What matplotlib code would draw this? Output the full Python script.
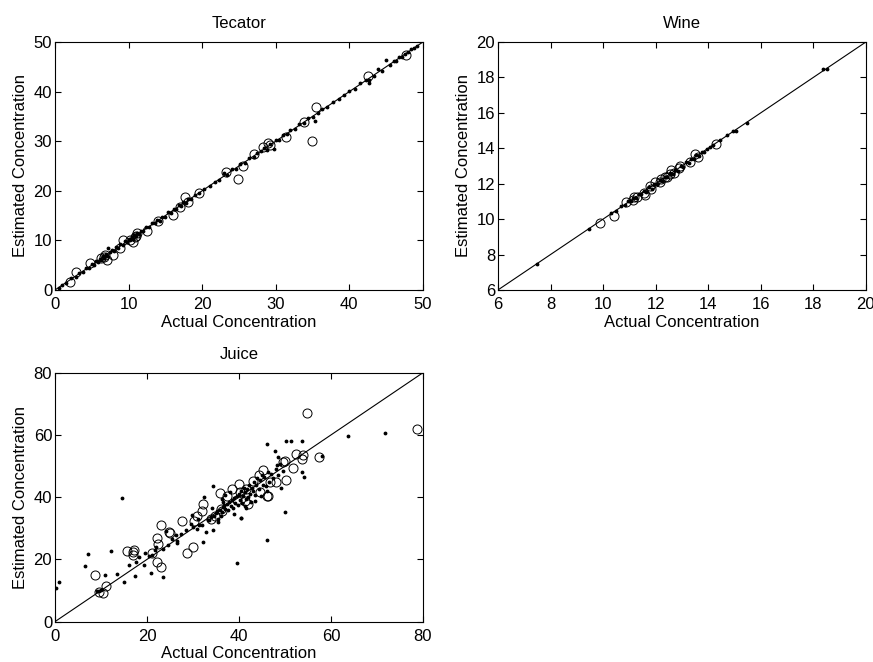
import matplotlib.pyplot as plt

plt.rcParams['font.family'] = ['Liberation Sans', 'DejaVu Sans']

# Tecator: test points (circles) and training points (dots)
tec_test_x = [2.0, 2.9, 4.75, 6.6, 7.0, 6.3, 7.9, 8.8, 9.2, 10.6, 11.2, 10.9, 12.5, 14.0, 16.1,
              17.0, 17.7, 18.1, 19.5, 23.3, 24.8, 25.6, 27.1, 28.3, 29.0, 29.2, 31.4, 33.8,
              34.9, 35.5, 42.5, 47.7, 6.8, 10.2, 11.0]
tec_test_y = [1.7, 3.6, 5.4, 6.7, 6.1, 6.4, 7.1, 8.4, 10.0, 9.6, 11.4, 10.6, 11.8, 14.0, 15.1,
              16.8, 18.8, 17.8, 19.5, 23.7, 22.4, 24.9, 27.5, 28.8, 29.7, 29.3, 30.8, 33.9,
              30.1, 36.9, 43.2, 47.3, 7.0, 10.1, 10.8]
tec_train_x = [0.5, 1.0, 1.5, 2.2, 2.8, 3.3, 3.8, 4.2, 4.6, 5.0, 5.3, 5.6, 5.9, 6.1, 6.3, 6.5,
               6.7, 6.9, 7.1, 7.2, 7.5, 7.8, 8.0, 8.3, 8.6, 8.9, 9.2, 9.5, 9.8, 10.0, 10.2, 10.4,
               10.6, 10.8, 11.0, 11.2, 11.4, 11.7, 12.0, 12.4, 12.8, 13.2, 13.6, 13.9, 14.2,
               14.6, 15.0, 15.4, 15.8, 16.2, 16.5, 16.8, 17.1, 17.4, 17.8, 18.1, 18.5, 19.0,
               19.6, 20.3, 21.0, 21.7, 22.3, 22.9, 23.4, 24.0, 24.6, 25.2, 25.8, 26.4, 27.0,
               27.5, 28.0, 28.4, 28.8, 29.2, 29.7, 30.0, 30.5, 31.0, 31.5, 32.0, 32.6, 33.2,
               33.8, 34.4, 35.0, 35.3, 35.8, 36.3, 37.0, 37.8, 38.6, 39.3, 40.0, 40.8, 41.5,
               42.3, 42.6, 42.7, 43.3, 43.9, 44.5, 45.0, 45.5, 46.0, 46.4, 46.8, 47.2, 47.6,
               48.0, 48.4, 48.8, 49.2]
tec_train_y = [0.4, 1.1, 1.4, 2.4, 2.7, 3.5, 3.7, 4.4, 4.5, 5.2, 5.1, 5.8, 5.7, 6.3, 6.0, 6.8,
               6.5, 7.2, 6.8, 8.4, 7.7, 8.1, 7.8, 8.6, 8.4, 9.2, 9.0, 9.8, 9.6, 10.3, 10.0, 10.6,
               10.3, 11.1, 10.8, 11.5, 11.2, 11.9, 11.8, 12.6, 12.6, 13.4, 13.5, 14.2, 13.9,
               14.8, 14.8, 15.7, 15.6, 16.4, 16.3, 17.1, 16.9, 17.7, 17.6, 18.4, 18.3, 19.2,
               19.5, 20.4, 20.9, 21.8, 22.2, 23.6, 23.2, 24.3, 24.4, 25.4, 25.6, 26.6, 26.8,
               27.7, 28.0, 28.6, 28.3, 29.4, 28.4, 30.2, 30.3, 31.2, 31.4, 32.2, 32.4, 33.4,
               33.6, 34.6, 34.9, 34.0, 35.6, 36.4, 36.8, 37.9, 38.5, 39.4, 40.2, 40.6, 41.7,
               42.4, 41.7, 42.4, 43.2, 44.6, 44.2, 46.4, 45.3, 46.2, 46.1, 46.9, 47.0, 47.6,
               47.9, 48.5, 48.7, 49.2]

# Wine
wine_test_x = [9.89, 10.40, 10.88, 11.16, 11.12, 11.54, 11.60, 11.79, 11.83, 12.15, 12.20,
               12.55, 12.59, 12.70, 12.87, 12.93, 13.31, 13.50, 13.60, 14.30, 12.34, 11.98,
               12.45, 11.3]
wine_test_y = [9.77, 10.18, 10.97, 11.27, 11.08, 11.50, 11.37, 11.89, 11.69, 12.12, 12.25,
               12.55, 12.78, 12.62, 12.87, 13.00, 13.25, 13.68, 13.53, 14.25, 12.40, 12.08,
               12.35, 11.25]
wine_train_x = [7.48, 9.45, 10.3, 10.5, 10.7, 10.85, 10.95, 11.05, 11.15, 11.25, 11.35, 11.45,
                11.55, 11.65, 11.75, 11.85, 11.95, 12.05, 12.15, 12.25, 12.35, 12.45, 12.55,
                12.65, 12.75, 12.85, 12.95, 13.05, 13.15, 13.25, 13.35, 13.45, 13.55, 13.65,
                13.75, 13.85, 13.95, 14.05, 14.2, 14.45, 14.7, 14.95, 15.05, 15.47, 18.38,
                18.53]
wine_train_y = [7.45, 9.43, 10.35, 10.45, 10.72, 10.8, 11.0, 11.0, 11.2, 11.2, 11.4, 11.4,
                11.6, 11.55, 11.8, 11.7, 12.0, 12.0, 12.2, 12.15, 12.4, 12.35, 12.6, 12.55,
                12.8, 12.7, 13.0, 12.95, 13.2, 13.15, 13.4, 13.4, 13.6, 13.55, 13.8, 13.8,
                13.95, 14.05, 14.2, 14.45, 14.72, 14.95, 15.0, 15.42, 18.45, 18.5]

# Juice
juice_test_x = [8.76, 9.56, 10.35, 11.0, 15.7, 17.0, 17.2, 16.9, 21.1, 22.1, 22.4, 22.2, 23.0,
                23.1, 24.8, 25.0, 27.7, 28.7, 29.9, 30.3, 30.8, 31.9, 32.1, 33.9, 34.8, 35.8,
                36.4, 37.3, 38.4, 40.0, 40.3, 41.3, 42.0, 43.1, 44.4, 45.3, 44.5, 46.0, 46.2,
                46.7, 48.0, 49.6, 49.9, 50.3, 51.8, 52.4, 53.6, 54.0, 54.7, 57.3, 78.8, 41.6,
                39.5, 36.0]
juice_test_y = [15.0, 9.65, 9.1, 11.6, 22.8, 22.3, 23.1, 21.4, 22.0, 26.8, 25.0, 19.1, 17.5,
                30.9, 28.7, 28.4, 32.2, 22.0, 23.9, 32.3, 34.1, 35.4, 37.9, 33.0, 34.1, 41.4,
                35.7, 40.3, 42.7, 44.3, 41.6, 38.9, 37.9, 45.3, 47.0, 48.6, 41.6, 40.5, 40.3,
                44.8, 44.8, 51.3, 51.6, 45.5, 49.3, 53.9, 52.3, 53.4, 67.1, 52.8, 61.8, 42.7,
                39.0, 36.2]
juice_train_x = [0.2, 0.9, 6.6, 7.2, 12.1, 10.9, 13.4, 14.6, 15.1, 16.1, 17.4, 17.7, 18.3,
                 19.3, 20.9, 20.5, 21.7, 23.5, 23.5, 24.1, 26.4, 26.6, 29.7, 30.8, 31.4, 32.2,
                 32.4, 32.9, 33.3, 34.4, 34.4, 35.5, 36.2, 40.4, 39.6, 46.1, 46.1, 47.8, 48.2,
                 48.5, 49.1, 50.0, 50.2, 51.4, 53.7, 53.7, 54.1, 58.1, 63.6, 71.8,
                 33.5, 34.0, 34.5, 35.0, 35.3, 35.8, 36.2, 36.5, 36.8, 37.0, 37.3, 37.6, 37.9,
                 38.2, 38.5, 38.7, 39.0, 39.2, 39.5, 39.7, 40.0, 40.2, 40.4, 40.6, 40.8, 41.0,
                 41.2, 41.4, 41.6, 41.8, 42.0, 42.2, 42.4, 42.6, 42.8, 43.0, 43.2, 43.5, 43.8,
                 44.0, 44.3, 44.6, 44.9, 45.2, 45.5, 45.8, 46.2, 46.6, 47.0, 47.5, 48.0, 48.5,
                 49.0, 49.5, 39.0, 40.5, 38.0, 36.5, 35.5, 34.2, 41.5, 43.5, 44.8, 46.0, 37.0,
                 36.0, 32.0, 31.0, 30.0, 29.5, 28.5, 27.5, 26.5, 25.5, 24.5, 22.0, 21.0, 19.5,
                 9.2, 9.5, 10.0]
juice_train_y = [10.8, 12.7, 18.0, 21.8, 22.6, 15.1, 15.3, 39.7, 12.7, 18.2, 14.8, 19.3, 20.9,
                 18.2, 15.6, 21.0, 23.1, 14.5, 23.4, 29.2, 27.9, 25.2, 34.3, 29.8, 30.9, 25.7,
                 40.0, 28.7, 32.5, 29.4, 43.5, 31.9, 39.5, 33.2, 18.8, 57.2, 26.1, 54.7, 50.2,
                 52.9, 42.9, 35.2, 58.2, 58.2, 58.2, 48.0, 46.4, 53.2, 59.8, 60.7,
                 32.5, 33.5, 34.0, 34.8, 35.5, 36.0, 35.2, 36.8, 37.5, 36.3, 37.9, 36.0, 38.5,
                 37.2, 39.0, 36.5, 39.8, 38.0, 40.5, 37.5, 41.0, 39.0, 42.0, 38.2, 40.5, 43.0,
                 37.0, 41.5, 39.5, 42.5, 40.0, 44.0, 41.0, 38.5, 43.0, 42.0, 45.0, 40.8, 44.0,
                 46.0, 42.5, 45.5, 47.0, 44.0, 46.5, 43.5, 48.0, 45.0, 47.5, 46.0, 49.0, 47.0,
                 50.5, 48.5, 34.5, 33.2, 41.5, 38.5, 33.0, 36.5, 36.5, 38.8, 40.5, 42.0, 40.8,
                 34.0, 31.0, 33.0, 30.5, 31.5, 29.5, 28.0, 26.0, 26.5, 24.5, 24.0, 21.5, 22.0,
                 10.0, 9.8, 10.3]

panels = [
    ('Tecator', tec_train_x, tec_train_y, tec_test_x, tec_test_y, (0, 50), [0, 10, 20, 30, 40, 50]),
    ('Wine', wine_train_x, wine_train_y, wine_test_x, wine_test_y, (6, 20), [6, 8, 10, 12, 14, 16, 18, 20]),
    ('Juice', juice_train_x, juice_train_y, juice_test_x, juice_test_y, (0, 80), [0, 20, 40, 60, 80]),
]
positions = [[0.063, 0.562, 0.4215, 0.3746],
             [0.5704, 0.562, 0.4215, 0.3746],
             [0.063, 0.061, 0.4215, 0.376]]

fig = plt.figure(figsize=(8.73, 6.62), dpi=100)
for (name, trx, trY, tex, teY, lim, ticks), pos in zip(panels, positions):
    ax = fig.add_axes(pos)
    ax.plot(lim, lim, color='k', lw=0.8)
    ax.plot(trx, trY, '.', color='k', ms=3.5)
    ax.plot(tex, teY, 'o', mfc='none', mec='k', mew=0.7, ms=6.5)
    ax.set_xlim(lim)
    ax.set_ylim(lim)
    ax.set_xticks(ticks)
    ax.set_yticks(ticks)
    ax.tick_params(direction='in', top=True, right=True, labelsize=12, length=4)
    ax.tick_params(axis='x', pad=5)
    ax.tick_params(axis='y', pad=2)
    for s in ax.spines.values():
        s.set_linewidth(0.8)
    ax.set_title(name, fontsize=12, pad=10)
    ax.set_xlabel('Actual Concentration', fontsize=12, labelpad=2)
    ax.set_ylabel('Estimated Concentration', fontsize=12, labelpad=4)

fig.savefig('out.png', dpi=100)
